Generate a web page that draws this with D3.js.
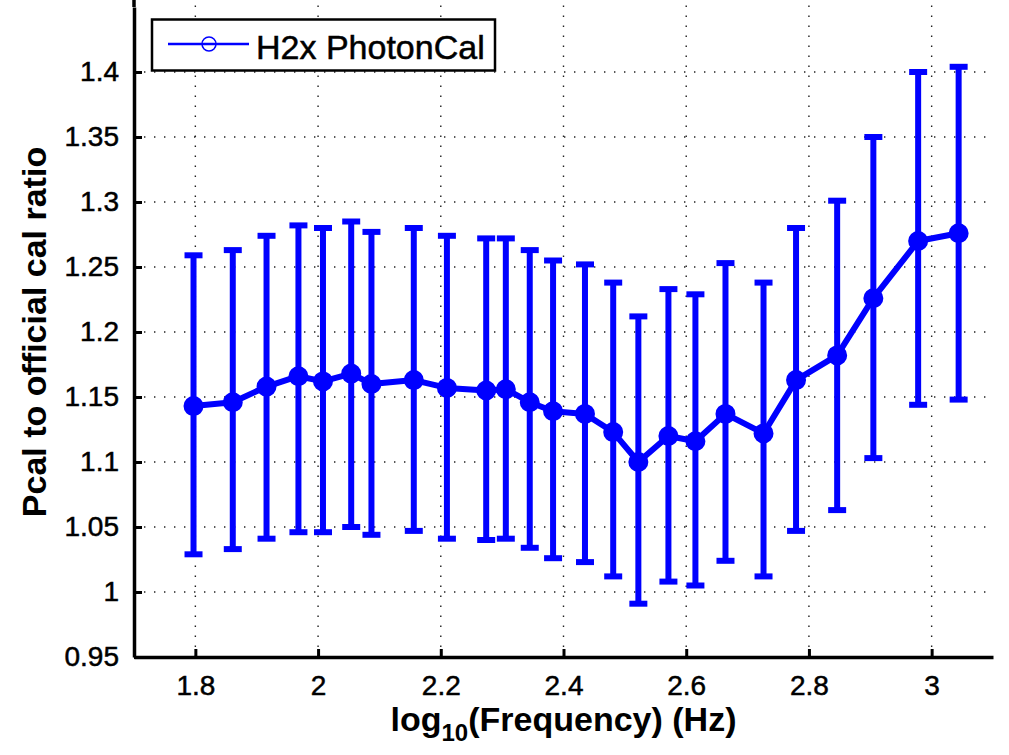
<!DOCTYPE html>
<html>
<head>
<meta charset="utf-8">
<script src="https://cdn.jsdelivr.net/npm/d3@7"></script>
<style>
  body { margin: 0; background: #fff; }
  text { font-family: "Liberation Sans", Arial, sans-serif; fill: #000; }
  .grid line { stroke: #222; stroke-width: 1.4; stroke-dasharray: 1.4, 8.6; }
</style>
</head>
<body>
<div class="chart"></div>
<script>
// Step 0: the data
//= ================================
var logFreq = [1.797, 1.861, 1.916, 1.968, 2.008, 2.054, 2.087, 2.156, 2.210, 2.274, 2.306, 2.345, 2.383,
               2.435, 2.481, 2.522, 2.571, 2.615, 2.664, 2.726, 2.779, 2.846, 2.905, 2.978, 3.044];
var ratio = [1.143, 1.146, 1.158, 1.166, 1.162, 1.168, 1.160, 1.163, 1.157, 1.155, 1.156, 1.146, 1.139,
             1.137, 1.123, 1.100, 1.120, 1.116, 1.137, 1.122, 1.163, 1.182, 1.226, 1.270, 1.276];
var upper = [1.259, 1.263, 1.274, 1.282, 1.280, 1.285, 1.277, 1.280, 1.274, 1.272, 1.272, 1.263, 1.255,
             1.252, 1.238, 1.212, 1.233, 1.229, 1.253, 1.238, 1.280, 1.301, 1.350, 1.400, 1.404];
var lower = [1.029, 1.033, 1.041, 1.046, 1.046, 1.050, 1.044, 1.047, 1.041, 1.040, 1.041, 1.034, 1.026,
             1.023, 1.012, 0.991, 1.008, 1.005, 1.024, 1.012, 1.047, 1.063, 1.103, 1.144, 1.148];

var xTicks = [1.8, 2, 2.2, 2.4, 2.6, 2.8, 3];
var yTicks = [0.95, 1, 1.05, 1.1, 1.15, 1.2, 1.25, 1.3, 1.35, 1.4];
var seriesName = "H2x PhotonCal";

var svgWidth = 1009;
var svgHeight = 755;
var margin = { top: 7, right: 16, bottom: 98, left: 134 };
var width = svgWidth - margin.left - margin.right;
var height = svgHeight - margin.top - margin.bottom;

var svg = d3.select(".chart")
  .append("svg")
  .attr("width", svgWidth)
  .attr("height", svgHeight);

var chart = svg.append("g")
  .attr("transform", "translate(" + margin.left + "," + margin.top + ")");

var data = logFreq.map(function (f, i) {
  return { x: f, y: ratio[i], hi: upper[i], lo: lower[i] };
});

// scales
var xScale = d3.scaleLinear().domain([1.7, 3.1]).range([0, width]);
var yScale = d3.scaleLinear().domain([0.95, 1.45]).range([height, 0]);

// dotted grid
chart.append("g")
  .attr("class", "grid")
  .selectAll("line")
  .data(xTicks)
  .enter()
  .append("line")
  .attr("x1", function (d) { return xScale(d); })
  .attr("x2", function (d) { return xScale(d); })
  .attr("y1", height)
  .attr("y2", -margin.top);

chart.append("g")
  .attr("class", "grid")
  .selectAll("line")
  .data(yTicks.slice(1))
  .enter()
  .append("line")
  .attr("y1", function (d) { return yScale(d); })
  .attr("y2", function (d) { return yScale(d); })
  .attr("x1", 0)
  .attr("x2", width);

// axes, ticks point inward like matlab
var xAxis = d3.axisBottom(xScale)
  .tickValues(xTicks)
  .tickSizeInner(-8)
  .tickSizeOuter(0)
  .tickPadding(18)
  .tickFormat(d3.format("~g"));

var yAxis = d3.axisLeft(yScale)
  .tickValues(yTicks)
  .tickSizeInner(-8)
  .tickSizeOuter(0)
  .tickPadding(15)
  .tickFormat(d3.format("~g"));

var gx = chart.append("g")
  .attr("class", "x-axis")
  .attr("transform", "translate(0," + height + ")")
  .call(xAxis);

var gy = chart.append("g")
  .attr("class", "y-axis")
  .call(yAxis);

// y axis line runs up to the top edge of the figure
gy.append("line")
  .attr("x1", 0).attr("x2", 0)
  .attr("y1", 0).attr("y2", -margin.top)
  .attr("stroke", "#000")
  .attr("stroke-width", 3.5);

[gx, gy].forEach(function (g) {
  g.select(".domain").attr("stroke", "#000").attr("stroke-width", 3.5);
  g.selectAll(".tick line").attr("stroke", "#000").attr("stroke-width", 3);
  g.selectAll(".tick text")
    .attr("font-size", "28px")
    .attr("font-family", "Liberation Sans, Arial, sans-serif")
    .attr("fill", "#000")
    .attr("stroke", "#000")
    .attr("stroke-width", 0.5);
});

// error bars
var capW = 9;
var bars = chart.append("g").attr("class", "errorbars");

bars.selectAll(".stem")
  .data(data)
  .enter()
  .append("line")
  .attr("x1", function (d) { return xScale(d.x); })
  .attr("x2", function (d) { return xScale(d.x); })
  .attr("y1", function (d) { return yScale(d.lo); })
  .attr("y2", function (d) { return yScale(d.hi); })
  .attr("stroke", "#0000ff")
  .attr("stroke-width", 6);

["hi", "lo"].forEach(function (key) {
  bars.selectAll(".cap-" + key)
    .data(data)
    .enter()
    .append("line")
    .attr("x1", function (d) { return xScale(d.x) - capW; })
    .attr("x2", function (d) { return xScale(d.x) + capW; })
    .attr("y1", function (d) { return yScale(d[key]); })
    .attr("y2", function (d) { return yScale(d[key]); })
    .attr("stroke", "#0000ff")
    .attr("stroke-width", 6);
});

// the line through the points
var line = d3.line()
  .x(function (d) { return xScale(d.x); })
  .y(function (d) { return yScale(d.y); });

chart.append("path")
  .datum(data)
  .attr("d", line)
  .attr("fill", "none")
  .attr("stroke", "#0000ff")
  .attr("stroke-width", 6)
  .attr("stroke-linejoin", "round");

chart.selectAll(".marker")
  .data(data)
  .enter()
  .append("circle")
  .attr("cx", function (d) { return xScale(d.x); })
  .attr("cy", function (d) { return yScale(d.y); })
  .attr("r", 7)
  .attr("fill", "#0000ff")
  .attr("stroke", "#0000ff")
  .attr("stroke-width", 6);

// axis titles
var xt = svg.append("text")
  .attr("x", margin.left + width / 2)
  .attr("y", 731)
  .attr("text-anchor", "middle")
  .attr("font-size", "34px")
  .attr("font-weight", "bold");
xt.append("tspan").text("log");
xt.append("tspan").attr("font-size", "24px").attr("dy", 10).text("10");
xt.append("tspan").attr("dy", -10).text("(Frequency) (Hz)");

svg.append("text")
  .attr("transform", "translate(46," + (margin.top + height / 2) + ")rotate(-90)")
  .attr("text-anchor", "middle")
  .attr("font-size", "34px")
  .attr("font-weight", "bold")
  .text("Pcal to official cal ratio");

// legend
var legend = svg.append("g").attr("class", "legend");

legend.append("rect")
  .attr("x", 152)
  .attr("y", 19.5)
  .attr("width", 343)
  .attr("height", 51)
  .attr("fill", "#fff")
  .attr("stroke", "#000")
  .attr("stroke-width", 2.5);

legend.append("line")
  .attr("x1", 168)
  .attr("x2", 249)
  .attr("y1", 44)
  .attr("y2", 44)
  .attr("stroke", "#0000ff")
  .attr("stroke-width", 2.5);

legend.append("circle")
  .attr("cx", 209)
  .attr("cy", 44)
  .attr("r", 7)
  .attr("fill", "none")
  .attr("stroke", "#0000ff")
  .attr("stroke-width", 1.5);

legend.append("text")
  .attr("x", 256)
  .attr("y", 59)
  .attr("font-size", "34px")
  .attr("stroke", "#000")
  .attr("stroke-width", 0.5)
  .text(seriesName);
</script>
</body>
</html>
